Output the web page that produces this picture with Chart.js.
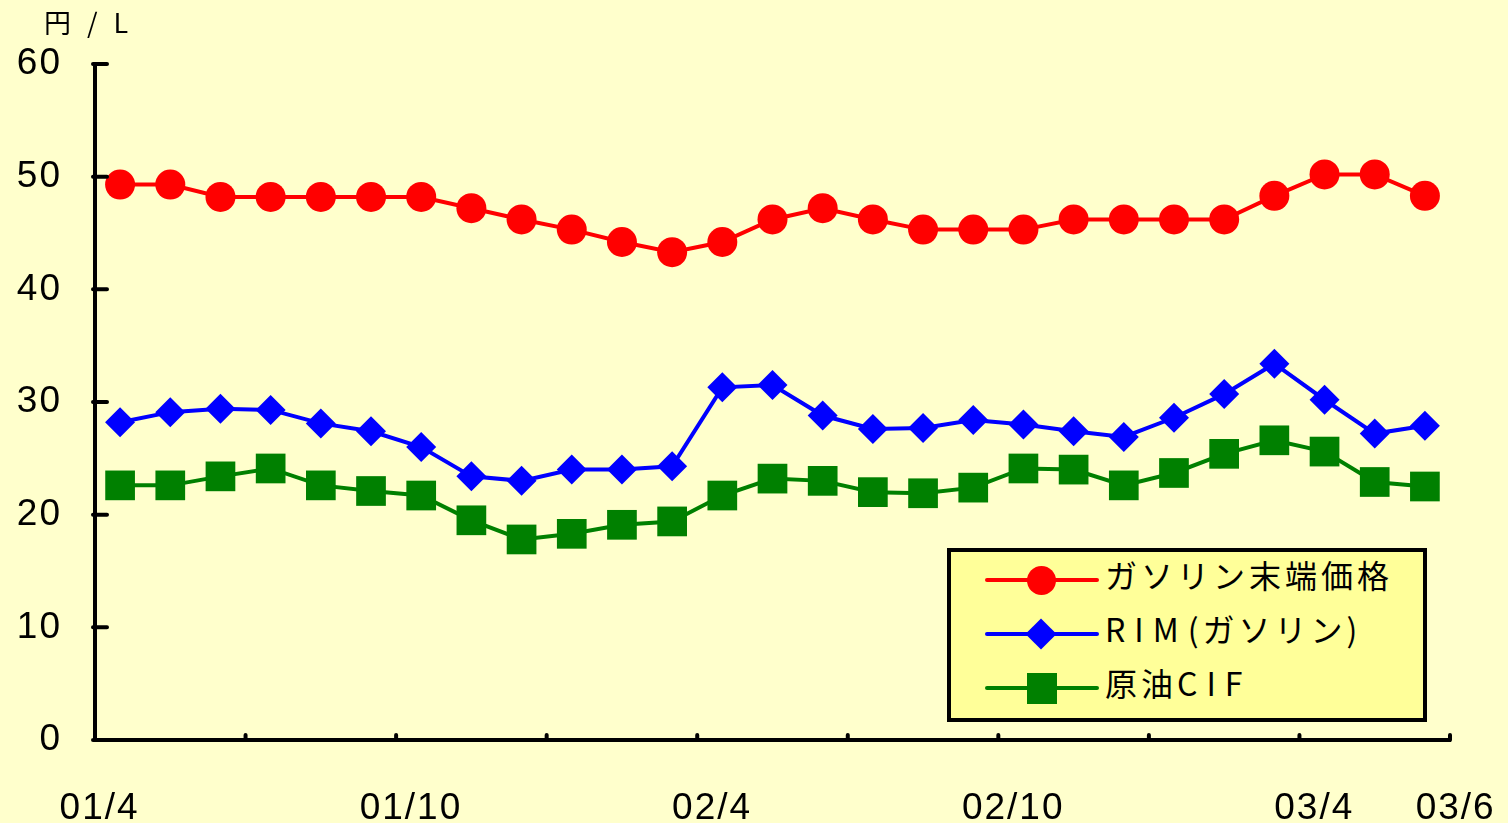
<!DOCTYPE html>
<html>
<head>
<meta charset="utf-8">
<script src="https://cdn.jsdelivr.net/npm/chart.js@4"></script>
<style>
  html, body { margin: 0; padding: 0; background: #FFFFCC; }
  #wrap { position: relative; width: 1508px; height: 823px; }
  #unit {
    position: absolute; left: 44px; top: 2px;
    font: 27px "Noto Sans CJK JP", sans-serif; letter-spacing: 16px; color: #000;
  }
  #legend {
    position: absolute; left: 947px; top: 548px; width: 472px; height: 166px;
    border: 4px solid #000; background: #FFFF99;
  }
  .item { position: absolute; left: 34px; height: 40px; }
  .line { position: absolute; left: 0; top: 18px; width: 114px; height: 4px; border-radius: 2px; }
  .mark { position: absolute; }
  .txt {
    position: absolute; left: 120px; top: -9px; white-space: nowrap;
    font: 32px "Noto Sans CJK JP", sans-serif; letter-spacing: 4px; color: #000;
  }
  .txt .w { letter-spacing: 9px; }
</style>
</head>
<body>
<div id="wrap">
  <canvas id="chart" width="1508" height="823"></canvas>
  <div id="unit">円/L</div>
  <div id="legend"></div>
</div>
<script>
// months 01/4 .. 03/6
const months = [
  "01/4","01/5","01/6","01/7","01/8","01/9","01/10","01/11","01/12",
  "02/1","02/2","02/3","02/4","02/5","02/6","02/7","02/8","02/9","02/10","02/11","02/12",
  "03/1","03/2","03/3","03/4","03/5","03/6"
];
// which month labels are printed under the axis
const shownLabels = [0, 6, 12, 18, 24, 26];

const seriesNames = ["ガソリン末端価格", "RIM(ガソリン)", "原油CIF"];

const gasolineRetail = [
  49.3, 49.3, 48.2, 48.2, 48.2, 48.2, 48.2, 47.2, 46.2, 45.3, 44.2, 43.3,
  44.2, 46.2, 47.2, 46.2, 45.3, 45.3, 45.3, 46.2, 46.2, 46.2, 46.2, 48.3,
  50.2, 50.2, 48.3
];
const rimGasoline = [
  28.2, 29.1, 29.4, 29.3, 28.1, 27.4, 26.0, 23.4, 23.0, 24.0, 24.0, 24.3,
  31.3, 31.5, 28.8, 27.6, 27.7, 28.4, 28.0, 27.4, 26.9, 28.6, 30.7, 33.4,
  30.2, 27.2, 27.9
];
const crudeCIF = [
  22.6, 22.6, 23.4, 24.1, 22.6, 22.1, 21.7, 19.5, 17.8, 18.3, 19.1, 19.4,
  21.7, 23.2, 23.0, 22.0, 21.9, 22.4, 24.1, 24.0, 22.6, 23.7, 25.4, 26.6,
  25.6, 22.9, 22.5
];

const yTicks = [0, 10, 20, 30, 40, 50, 60];

const colors = ["#FF0000", "#0000FF", "#008000"];

const tickFont = { family: "'Liberation Sans', Arial, sans-serif", size: 37 };

// inside tick marks, drawn at the scales' own positions
const insideTicks = {
  id: "insideTicks",
  beforeDraw(chart) { chart.ctx.letterSpacing = "2px"; },
  afterDraw(chart) {
    const ctx = chart.ctx;
    const x = chart.scales.x, y = chart.scales.y;
    ctx.save();
    ctx.strokeStyle = "#000";
    ctx.lineWidth = 4;
    ctx.lineCap = "round";
    ctx.beginPath();
    for (let i = 0; i <= months.length; i += 3) {
      const px = x.getPixelForValue(i - 0.5);
      ctx.moveTo(px, y.bottom);
      ctx.lineTo(px, y.bottom - 5);
    }
    yTicks.forEach(v => {
      const py = y.getPixelForValue(v);
      ctx.moveTo(x.left - 2, py);
      ctx.lineTo(x.left + 12, py);
    });
    ctx.stroke();
    ctx.restore();
  }
};

// shown label text, nudged the way the original sits under the axis
function tickText(i) {
  if (!shownLabels.includes(i)) return "";
  if (i === 0) return months[i] + "\u2002\u2002";
  if (i === months.length - 1) return "\u2002\u2002\u2002" + months[i];
  return months[i] + "\u2002";
}

new Chart(document.getElementById("chart"), {
  type: "line",
  plugins: [insideTicks],
  data: {
    labels: months,
    datasets: [
      {
        label: seriesNames[0], data: gasolineRetail,
        borderColor: colors[0], backgroundColor: colors[0], borderWidth: 4,
        pointStyle: "circle", pointRadius: 15, pointBorderWidth: 0
      },
      {
        label: seriesNames[1], data: rimGasoline,
        borderColor: colors[1], backgroundColor: colors[1], borderWidth: 4,
        pointStyle: "rectRot", pointRadius: 15, pointBorderWidth: 0
      },
      {
        label: seriesNames[2], data: crudeCIF,
        borderColor: colors[2], backgroundColor: colors[2], borderWidth: 4,
        pointStyle: "rect", pointRadius: 21, pointBorderWidth: 0
      }
    ]
  },
  options: {
    responsive: false,
    animation: false,
    events: [],
    layout: { padding: { top: 64, right: 58, left: 0, bottom: 0 } },
    plugins: { legend: { display: false }, tooltip: { enabled: false } },
    scales: {
      x: {
        offset: true,
        grid: { display: false, drawTicks: false },
        border: { display: true, color: "#000", width: 4 },
        ticks: {
          autoSkip: false, maxRotation: 0, padding: 47, color: "#000",
          font: tickFont,
          callback: (v, i) => tickText(i)
        },
        afterFit: s => { s.height = 83; s.paddingLeft = 0; s.paddingRight = 0; }
      },
      y: {
        min: 0, max: 60,
        afterBuildTicks: s => { s.ticks = yTicks.map(v => ({ value: v })); },
        grid: { display: false, drawTicks: false },
        border: { display: true, color: "#000", width: 4 },
        ticks: {
          padding: 33, color: "#000",
          font: tickFont
        },
        afterFit: s => { s.width = 95; }
      }
    }
  }
});

// legend box built from the same series names / colours
const legend = document.getElementById("legend");
const markCss = [
  "left:42px;top:6px;width:29px;height:29px;border-radius:50%;",
  "left:45px;top:9px;width:22px;height:22px;transform:rotate(45deg);",
  "left:42px;top:5px;width:30px;height:31px;"
];
seriesNames.forEach((name, i) => {
  const item = document.createElement("div");
  item.className = "item";
  item.style.top = (8 + i * 54) + "px";
  // Latin letters in the original legend are set wide apart
  const html = name.replace(/([A-Z]+)/g, '<span class="w">$1</span>');
  item.innerHTML =
    '<div class="line" style="background:' + colors[i] + '"></div>' +
    '<div class="mark" style="' + markCss[i] + 'background:' + colors[i] + '"></div>' +
    '<div class="txt">' + html + '</div>';
  legend.appendChild(item);
});
</script>
</body>
</html>
